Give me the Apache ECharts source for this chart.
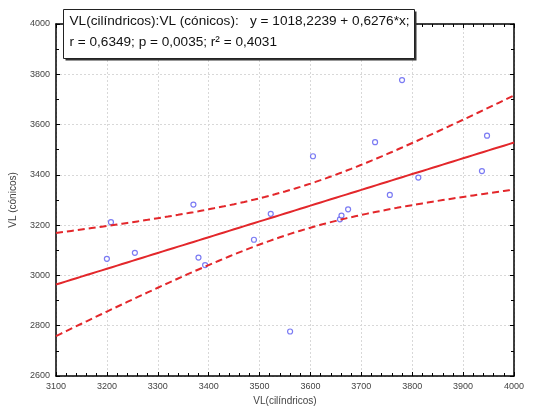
<!DOCTYPE html>
<html>
<head>
<meta charset="utf-8">
<script src="https://cdn.jsdelivr.net/npm/echarts@6/dist/echarts.min.js"></script>
<style>
  html, body { margin: 0; padding: 0; background: #fff; }
  #chart { width: 540px; height: 413px; }
</style>
</head>
<body>
<div id="chart"></div>
<script>
// VL (cilindricos) vs VL (conicos)
let vlCil = [3208, 3200, 3255, 3370, 3380, 3393, 3489, 3522, 3605, 3560,
             3658, 3661, 3674, 3727, 3780, 3756, 3812, 3937, 3947];
let vlCon = [3212, 3066, 3090, 3282, 3071, 3041, 3142, 3245, 3474, 2777,
             3223, 3238, 3263, 3530, 3777, 3320, 3389, 3415, 3556];

// regression from the label
let intercept = 1018.2239;
let slope = 0.6276;
let tCrit = 2.11; // t(0.975, df = 17)

let boxLine1 = "VL(cilíndricos):VL (cónicos):   y = 1018,2239 + 0,6276*x;";
let boxLine2 = "r = 0,6349; p = 0,0035; r² = 0,4031";

function init() {
  let n = vlCil.length;
  let xbar = vlCil.reduce((a, b) => a + b, 0) / n;
  let sxx = 0, sse = 0;
  for (let i = 0; i < n; i++) {
    sxx += (vlCil[i] - xbar) * (vlCil[i] - xbar);
    let e = vlCon[i] - (intercept + slope * vlCil[i]);
    sse += e * e;
  }
  let s = Math.sqrt(sse / (n - 2));

  let fit = [], upper = [], lower = [];
  for (let x = 3100; x <= 4000; x += 10) {
    let yh = intercept + slope * x;
    let half = tCrit * s * Math.sqrt(1 / n + (x - xbar) * (x - xbar) / sxx);
    fit.push([x, yh]);
    upper.push([x, yh + half]);
    lower.push([x, yh - half]);
  }
  let points = vlCil.map((x, i) => [x, vlCon[i]]);

  let red = '#e3272b';
  let tickFont = { fontSize: 9, color: '#444', fontFamily: 'Liberation Sans', formatter: v => String(v) };

  let chart = echarts.init(document.getElementById('chart'));
  chart.setOption({
    animation: false,
    grid: { left: 56, right: 26, top: 24, bottom: 37 },
    xAxis: [{
      type: 'value', min: 3100, max: 4000, interval: 100,
      name: 'VL(cilíndricos)', nameLocation: 'middle', nameGap: 20,
      nameTextStyle: { fontSize: 10, color: '#444', fontFamily: 'Liberation Sans' },
      axisLine: { lineStyle: { color: '#000', width: 1.5 } },
      axisTick: { inside: true, length: 4, lineStyle: { color: '#000' } },
      minorTick: { show: true, splitNumber: 5, length: 3, lineStyle: { color: '#000' } },
      axisLabel: Object.assign({ margin: 6 }, tickFont),
      splitLine: { show: true, lineStyle: { color: '#d8d8d8', type: [2, 2] } }
    }, {
      type: 'value', position: 'top', min: 3100, max: 4000, interval: 100,
      axisLine: { show: true, lineStyle: { color: '#000', width: 1.5 } },
      axisTick: { show: true, inside: true, length: 4, lineStyle: { color: '#000' } },
      minorTick: { show: true, splitNumber: 5, length: 3, lineStyle: { color: '#000' } },
      axisLabel: { show: false }, splitLine: { show: false }
    }],
    yAxis: [{
      type: 'value', min: 2600, max: 4000, interval: 200,
      name: 'VL (cónicos)', nameLocation: 'middle', nameGap: 38,
      nameTextStyle: { fontSize: 10, color: '#444', fontFamily: 'Liberation Sans' },
      axisLine: { show: true, lineStyle: { color: '#000', width: 1.5 } },
      axisTick: { show: true, inside: true, length: 4, lineStyle: { color: '#000' } },
      minorTick: { show: true, splitNumber: 2, length: 3, lineStyle: { color: '#000' } },
      axisLabel: Object.assign({ margin: 6 }, tickFont),
      splitLine: { show: true, lineStyle: { color: '#d8d8d8', type: [2, 2] } }
    }, {
      type: 'value', position: 'right', min: 2600, max: 4000, interval: 200,
      axisLine: { show: true, lineStyle: { color: '#000', width: 1.5 } },
      axisTick: { show: true, inside: true, length: 4, lineStyle: { color: '#000' } },
      minorTick: { show: true, splitNumber: 2, length: 3, lineStyle: { color: '#000' } },
      axisLabel: { show: false }, splitLine: { show: false }
    }],
    series: [
      { type: 'line', data: upper, showSymbol: false, lineStyle: { color: red, width: 2, type: [7, 4] } },
      { type: 'line', data: lower, showSymbol: false, lineStyle: { color: red, width: 2, type: [7, 4] } },
      { type: 'line', data: fit, showSymbol: false, lineStyle: { color: red, width: 2 } },
      {
        type: 'scatter', data: points, symbol: 'circle', symbolSize: 5,
        itemStyle: { color: '#fff', borderColor: '#5a5af0', borderWidth: 1.2 }
      }
    ],
    graphic: [{
      type: 'group', left: 63, top: 9, z: 100,
      children: [
        { type: 'rect', z: 100, shape: { x: 2, y: 2, width: 351, height: 49 }, style: { fill: '#333' } },
        { type: 'rect', z: 101, shape: { x: 0, y: 0, width: 351, height: 49 }, style: { fill: '#fff', stroke: '#222', lineWidth: 1 } },
        { type: 'text', z: 102, x: 6, y: 5, style: { text: boxLine1, fontSize: 13.6, fontFamily: 'Liberation Sans', fill: '#111' } },
        { type: 'text', z: 102, x: 6, y: 26, style: { text: boxLine2, fontSize: 13.6, fontFamily: 'Liberation Sans', fill: '#111' } }
      ]
    }]
  });
}
init();
</script>
</body>
</html>
